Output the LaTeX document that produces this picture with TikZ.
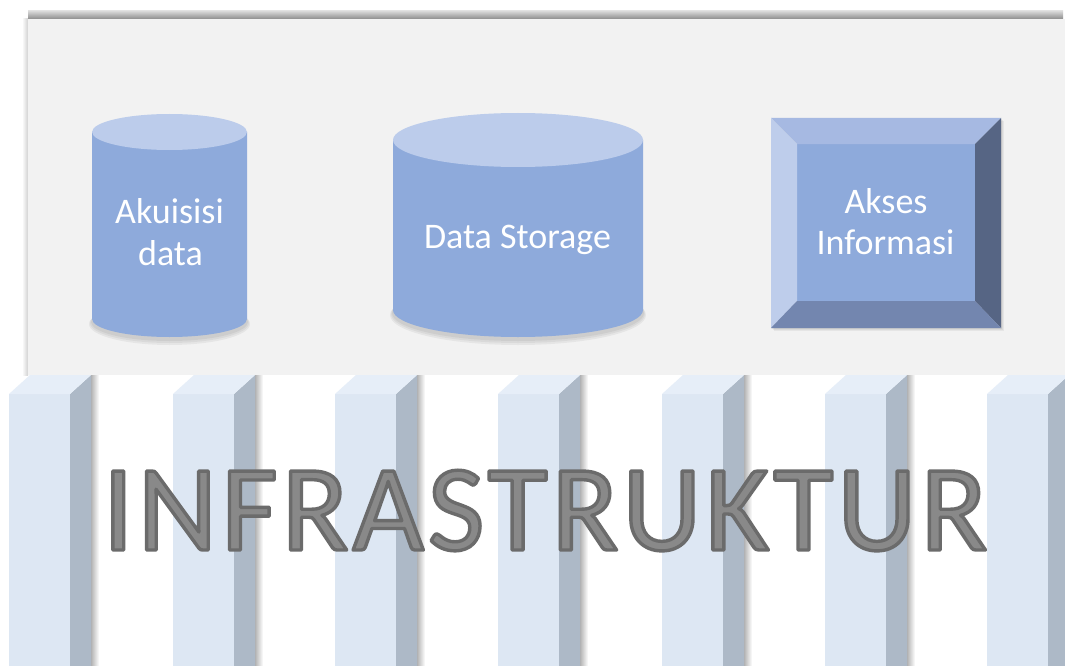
\documentclass[tikz,border=0pt]{standalone}
\usepackage{fontspec}
\setmainfont{Carlito}
\definecolor{panelfill}{HTML}{F2F2F2}
\definecolor{cylbody}{HTML}{8EAADB}
\definecolor{cyltop}{HTML}{BCCCEB}
\definecolor{bevtop}{HTML}{A6B9E2}
\definecolor{bevleft}{HTML}{BECDEB}
\definecolor{bevright}{HTML}{566584}
\definecolor{bevbot}{HTML}{7386AF}
\definecolor{pilfront}{HTML}{DDE7F3}
\definecolor{piltop}{HTML}{E6EEF8}
\definecolor{pilside}{HTML}{ADB9C7}
\definecolor{titlemid}{HTML}{898989}
\newcommand{\strokedtext}[1]{\special{pdf:literal direct 2 Tr 3.4 w 0.42 G 1 j}#1\special{pdf:literal direct 0 Tr}}
\begin{document}
\begin{tikzpicture}[x=1pt,y=-1pt,
  lbl/.style={text=white,font=\fontsize{36}{42}\selectfont,inner sep=0pt,anchor=base},
  ttl/.style={font=\fontsize{123}{130}\selectfont,inner sep=0pt,anchor=base},
  softshadow/.style={fill=black,opacity=0.05}]
\useasboundingbox (0,0) rectangle (1065,666);
\fill[white] (0,0) rectangle (1065,666);
% top panel
\shade[left color=white,right color=black!18] (22,19) rectangle (28,375);
\fill[panelfill] (28,19) rectangle (1065,375);
\shade[top color=black!15,bottom color=black!45] (28,11) rectangle (1063,19);
% pillars
\foreach \px in {9,173,335,498,662,825,987}{
  \shade[left color=black!30,right color=white] (\px+82,375) rectangle (\px+90,666);
  \fill[pilfront] (\px,394) rectangle (\px+61,666);
  \fill[pilside] (\px+61,394) -- (\px+82,375) -- (\px+82,666) -- (\px+61,666) -- cycle;
  \fill[piltop] (\px,394) -- (\px+21,375) -- (\px+82,375) -- (\px+61,394) -- cycle;
}
% cylinder 1
\foreach \k in {1,2,3}{
  \fill[softshadow] (169.5,321+\k) ellipse[x radius=77.5pt+\k pt,y radius=18pt+\k pt];
}
\fill[cylbody] (92,132) -- (92,319) arc[start angle=180,end angle=360,x radius=77.5pt,y radius=18pt] -- (247,132) -- cycle;
\fill[cyltop] (169.5,132) ellipse[x radius=77.5pt,y radius=18pt];
% cylinder 2
\foreach \k in {1,2,3}{
  \fill[softshadow] (518,312+\k) ellipse[x radius=125pt+\k pt,y radius=27pt+\k pt];
}
\fill[cylbody] (393,140) -- (393,310) arc[start angle=180,end angle=360,x radius=125pt,y radius=27pt] -- (643,140) -- cycle;
\fill[cyltop] (518,140) ellipse[x radius=125pt,y radius=27pt];
% bevel box
\foreach \k in {1,2,3}{
  \fill[softshadow] (771+\k,118+\k) rectangle (1001+\k,328+\k);
}
\fill[cylbody] (797,144) rectangle (975,301);
\fill[bevtop] (771,118) -- (1001,118) -- (975,144) -- (797,144) -- cycle;
\fill[bevleft] (771,118) -- (797,144) -- (797,301) -- (771,328) -- cycle;
\fill[bevright] (1001,118) -- (1001,328) -- (975,301) -- (975,144) -- cycle;
\fill[bevbot] (771,328) -- (1001,328) -- (975,301) -- (797,301) -- cycle;
% labels
\node[lbl] (akuisisi) at (169.5,223) {Akuisisi};
\node[lbl] (data) at (170.5,265) {data};
\node[lbl] (storage) at (517.5,248) {Data Storage};
\node[lbl] (akses) at (886,213) {Akses};
\node[lbl] (informasi) at (885.5,254) {Informasi};
% title
\node[ttl,text=titlemid] (title) at (545,550) {\addfontfeatures{LetterSpace=3.3}\strokedtext{INFRASTRUKTUR}};
\end{tikzpicture}
\end{document}
